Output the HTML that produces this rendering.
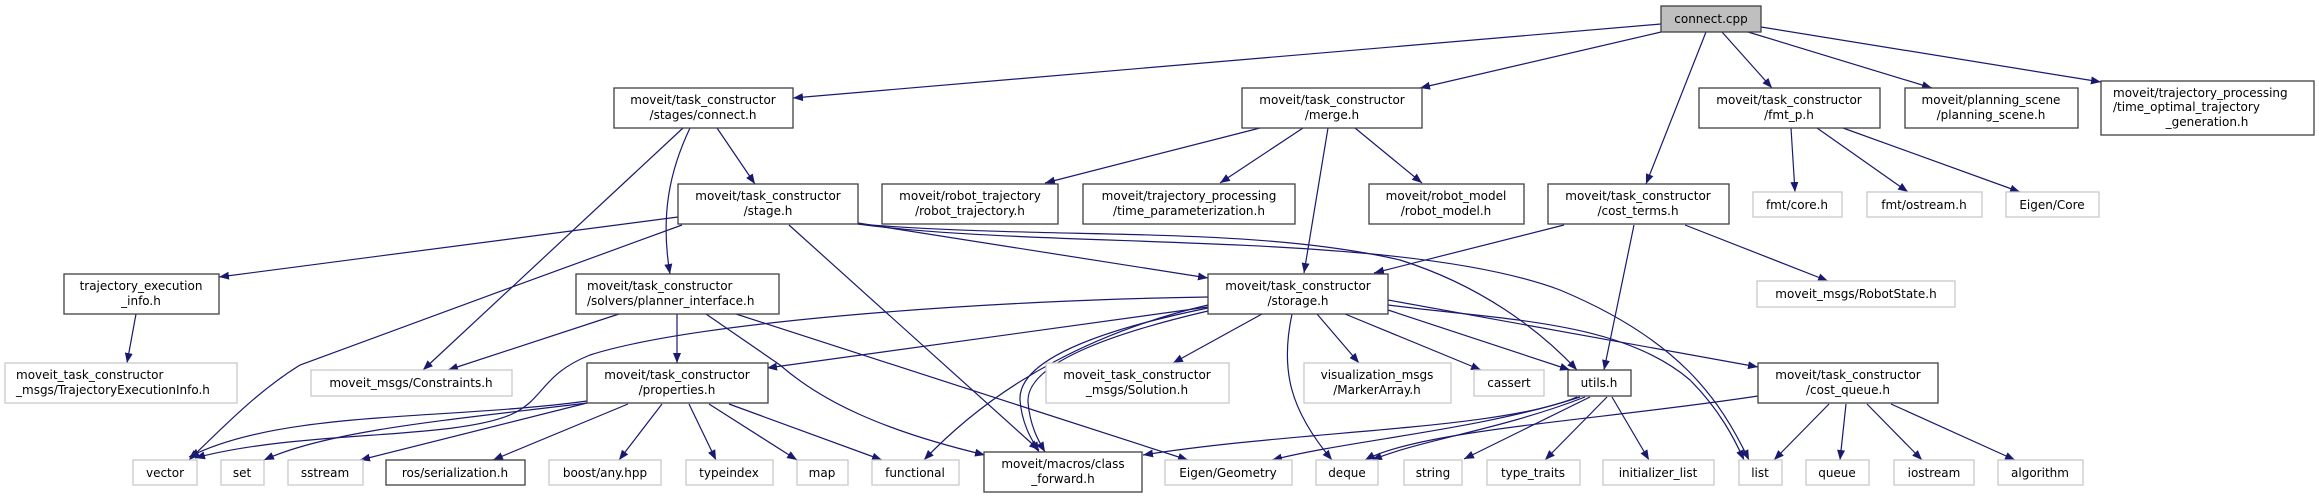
<!DOCTYPE html>
<html><head><meta charset="utf-8"><style>
html,body{margin:0;padding:0;background:#fff;width:2319px;height:499px;overflow:hidden}
svg text{font-family:"DejaVu Sans","Liberation Sans",sans-serif;font-size:12px;fill:#000}
</style></head><body>
<svg width="2319" height="499" viewBox="0 0 2319 499" xmlns="http://www.w3.org/2000/svg">
<defs><marker id="a" viewBox="0 0 10 8" refX="10" refY="4" markerWidth="10" markerHeight="8" markerUnits="userSpaceOnUse" orient="auto"><path d="M0,0L10,4L0,8z" fill="#191970"/></marker></defs>
<g fill="none" stroke="#191970" stroke-width="1.2" marker-end="url(#a)">
<path d="M1661,24 L793,98"/>
<path d="M1661,32 L1420,88"/>
<path d="M1706,32 L1646,184"/>
<path d="M1722,32 L1772,88"/>
<path d="M1748,32 L1932,88"/>
<path d="M1761,27 L2101,82"/>
<path d="M717,128 L755,184"/>
<path d="M683,128 L423,370"/>
<path d="M690,128 C670,170 660,215 670,274"/>
<path d="M678,217 L219,277"/>
<path d="M682,225 C560,270 420,320 300,365 C260,390 230,420 189,460"/>
<path d="M789,225 L1039,450"/>
<path d="M858,223 L1208,278"/>
<path d="M858,224 C1050,240 1250,225 1400,260 C1480,285 1540,330 1577,370"/>
<path d="M858,224 C1050,250 1400,230 1560,290 C1680,340 1720,400 1749,460"/>
<path d="M136,314 L127,363"/>
<path d="M619,314 L448,370"/>
<path d="M677,314 L677,363"/>
<path d="M706,314 L780,365 C820,400 880,430 985,455"/>
<path d="M736,314 L1188,460"/>
<path d="M587,401 C450,420 280,410 189,457"/>
<path d="M587,403 C450,420 330,430 264,460"/>
<path d="M587,403 L360,460"/>
<path d="M628,404 L493,460"/>
<path d="M662,404 L619,460"/>
<path d="M689,404 L716,460"/>
<path d="M709,404 L797,460"/>
<path d="M729,404 L882,460"/>
<path d="M1208,307 L767,368"/>
<path d="M1208,297 C1000,300 700,320 590,355 C540,375 545,400 510,415 C450,440 300,430 195,458"/>
<path d="M1208,305 C1100,330 1000,380 924,460"/>
<path d="M1208,308 C1100,330 1018,360 1020,400 C1022,425 1032,440 1039,452"/>
<path d="M1208,311 C1105,335 1026,365 1028,402 C1030,426 1038,440 1045,452"/>
<path d="M1262,314 L1173,363"/>
<path d="M1292,314 C1280,370 1290,410 1332,460"/>
<path d="M1317,314 L1359,363"/>
<path d="M1345,314 L1481,370"/>
<path d="M1388,310 L1570,370"/>
<path d="M1388,300 L1758,367"/>
<path d="M1388,305 C1500,320 1620,320 1690,380 C1720,410 1735,440 1744,460"/>
<path d="M1328,128 L1304,273"/>
<path d="M1260,128 L1045,183"/>
<path d="M1303,128 L1220,183"/>
<path d="M1355,128 L1422,183"/>
<path d="M1564,225 L1374,273"/>
<path d="M1634,225 L1604,370"/>
<path d="M1685,225 L1828,281"/>
<path d="M1791,128 L1795,192"/>
<path d="M1817,128 L1908,192"/>
<path d="M1843,128 L2020,192"/>
<path d="M1577,397 C1500,430 1300,430 1143,455"/>
<path d="M1580,397 C1480,430 1350,440 1272,460"/>
<path d="M1585,397 C1500,430 1420,440 1372,460"/>
<path d="M1590,397 L1464,459"/>
<path d="M1607,397 L1545,460"/>
<path d="M1612,397 L1649,460"/>
<path d="M1758,396 C1600,420 1420,430 1365,460"/>
<path d="M1829,404 L1774,460"/>
<path d="M1846,404 L1840,460"/>
<path d="M1867,404 L1922,460"/>
<path d="M1891,404 L2015,460"/>
</g>
<g stroke-width="1.3" fill="#fff">
<rect x="1661" y="6" width="100" height="26" fill="#bfbfbf" stroke="#404040"/>
<rect x="614" y="88" width="179" height="40" stroke="#404040"/>
<rect x="1242" y="88" width="180" height="40" stroke="#404040"/>
<rect x="1699" y="88" width="181" height="40" stroke="#404040"/>
<rect x="1905" y="88" width="173" height="40" stroke="#404040"/>
<rect x="2101" y="81" width="213" height="54" stroke="#404040"/>
<rect x="678" y="184" width="180" height="40" stroke="#404040"/>
<rect x="882" y="184" width="176" height="40" stroke="#404040"/>
<rect x="1083" y="184" width="212" height="40" stroke="#404040"/>
<rect x="1369" y="184" width="155" height="40" stroke="#404040"/>
<rect x="1548" y="184" width="181" height="40" stroke="#404040"/>
<rect x="1753" y="192" width="89" height="25" stroke="#c8c8c8"/>
<rect x="1867" y="192" width="115" height="25" stroke="#c8c8c8"/>
<rect x="2006" y="192" width="93" height="25" stroke="#c8c8c8"/>
<rect x="64" y="274" width="155" height="40" stroke="#404040"/>
<rect x="576" y="274" width="203" height="40" stroke="#404040"/>
<rect x="1208" y="274" width="180" height="40" stroke="#404040"/>
<rect x="1757" y="281" width="198" height="26" stroke="#c8c8c8"/>
<rect x="5" y="363" width="232" height="40" stroke="#c8c8c8"/>
<rect x="311" y="370" width="201" height="26" stroke="#c8c8c8"/>
<rect x="587" y="363" width="181" height="40" stroke="#404040"/>
<rect x="1046" y="363" width="183" height="40" stroke="#c8c8c8"/>
<rect x="1304" y="363" width="147" height="40" stroke="#c8c8c8"/>
<rect x="1474" y="370" width="70" height="26" stroke="#c8c8c8"/>
<rect x="1568" y="370" width="63" height="26" stroke="#404040"/>
<rect x="1758" y="363" width="180" height="40" stroke="#404040"/>
<rect x="133" y="460" width="64" height="25" stroke="#c8c8c8"/>
<rect x="221" y="460" width="43" height="25" stroke="#c8c8c8"/>
<rect x="288" y="460" width="75" height="25" stroke="#c8c8c8"/>
<rect x="386" y="460" width="139" height="25" stroke="#404040"/>
<rect x="549" y="460" width="112" height="25" stroke="#c8c8c8"/>
<rect x="686" y="460" width="87" height="25" stroke="#c8c8c8"/>
<rect x="797" y="460" width="51" height="25" stroke="#c8c8c8"/>
<rect x="872" y="460" width="87" height="25" stroke="#c8c8c8"/>
<rect x="984" y="452" width="158" height="40" stroke="#404040"/>
<rect x="1165" y="460" width="127" height="25" stroke="#c8c8c8"/>
<rect x="1316" y="460" width="62" height="25" stroke="#c8c8c8"/>
<rect x="1404" y="460" width="58" height="25" stroke="#c8c8c8"/>
<rect x="1487" y="460" width="93" height="25" stroke="#c8c8c8"/>
<rect x="1603" y="460" width="111" height="25" stroke="#c8c8c8"/>
<rect x="1739" y="460" width="43" height="25" stroke="#c8c8c8"/>
<rect x="1806" y="460" width="63" height="25" stroke="#c8c8c8"/>
<rect x="1894" y="460" width="80" height="25" stroke="#c8c8c8"/>
<rect x="1998" y="460" width="85" height="25" stroke="#c8c8c8"/>
</g>
<g text-anchor="middle">
<text x="1711" y="23">connect.cpp</text>
<text x="703" y="104">moveit/task_constructor</text><text x="703" y="119">/stages/connect.h</text>
<text x="1332" y="104">moveit/task_constructor</text><text x="1332" y="119">/merge.h</text>
<text x="1789" y="104">moveit/task_constructor</text><text x="1789" y="119">/fmt_p.h</text>
<text x="1991" y="104">moveit/planning_scene</text><text x="1991" y="119">/planning_scene.h</text>
<text x="2207" y="126">_generation.h</text>
<text x="768" y="200">moveit/task_constructor</text><text x="768" y="215">/stage.h</text>
<text x="970" y="200">moveit/robot_trajectory</text><text x="970" y="215">/robot_trajectory.h</text>
<text x="1189" y="200">moveit/trajectory_processing</text><text x="1189" y="215">/time_parameterization.h</text>
<text x="1446" y="200">moveit/robot_model</text><text x="1446" y="215">/robot_model.h</text>
<text x="1638" y="200">moveit/task_constructor</text><text x="1638" y="215">/cost_terms.h</text>
<text x="1797" y="209">fmt/core.h</text>
<text x="1924" y="209">fmt/ostream.h</text>
<text x="2052" y="209">Eigen/Core</text>
<text x="141" y="290">trajectory_execution</text><text x="141" y="305">_info.h</text>
<text x="1298" y="290">moveit/task_constructor</text><text x="1298" y="305">/storage.h</text>
<text x="1856" y="298">moveit_msgs/RobotState.h</text>
<text x="411" y="387">moveit_msgs/Constraints.h</text>
<text x="677" y="379">moveit/task_constructor</text><text x="677" y="394">/properties.h</text>
<text x="1137" y="379">moveit_task_constructor</text><text x="1137" y="394">_msgs/Solution.h</text>
<text x="1377" y="379">visualization_msgs</text><text x="1377" y="394">/MarkerArray.h</text>
<text x="1509" y="387">cassert</text>
<text x="1599" y="387">utils.h</text>
<text x="1848" y="379">moveit/task_constructor</text><text x="1848" y="394">/cost_queue.h</text>
<text x="165" y="477">vector</text>
<text x="242" y="477">set</text>
<text x="325" y="477">sstream</text>
<text x="455" y="477">ros/serialization.h</text>
<text x="605" y="477">boost/any.hpp</text>
<text x="729" y="477">typeindex</text>
<text x="822" y="477">map</text>
<text x="915" y="477">functional</text>
<text x="1063" y="468">moveit/macros/class</text><text x="1063" y="483">_forward.h</text>
<text x="1228" y="477">Eigen/Geometry</text>
<text x="1347" y="477">deque</text>
<text x="1433" y="477">string</text>
<text x="1533" y="477">type_traits</text>
<text x="1658" y="477">initializer_list</text>
<text x="1760" y="477">list</text>
<text x="1837" y="477">queue</text>
<text x="1934" y="477">iostream</text>
<text x="2040" y="477">algorithm</text>
</g>
<g>
<text x="2113" y="97">moveit/trajectory_processing</text><text x="2113" y="111">/time_optimal_trajectory</text>
<text x="587" y="290">moveit/task_constructor</text><text x="587" y="305">/solvers/planner_interface.h</text>
<text x="16" y="379">moveit_task_constructor</text><text x="16" y="394">_msgs/TrajectoryExecutionInfo.h</text>
</g>
</svg>
</body></html>
